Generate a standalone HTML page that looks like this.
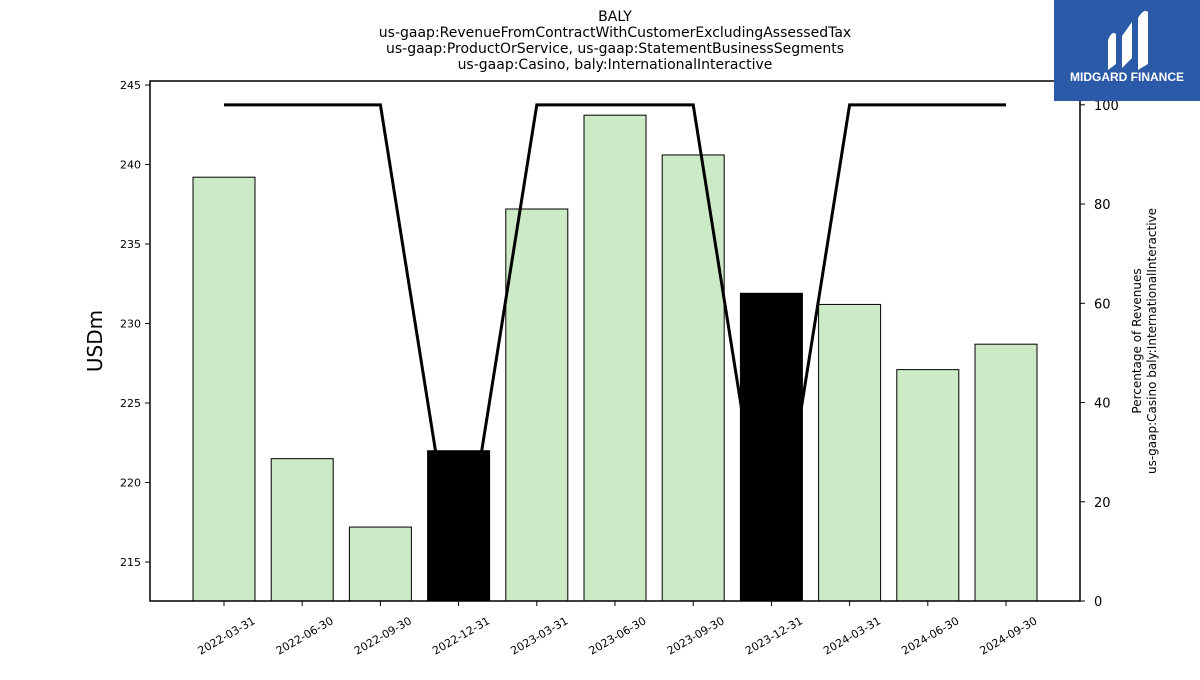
<!DOCTYPE html>
<html><head><meta charset="utf-8"><style>
body{margin:0;background:#fff;font-family:"Liberation Sans",sans-serif}
svg text{font-family:"DejaVu Sans","Liberation Sans",sans-serif}
</style></head><body>
<svg id="c" width="1200" height="675" xmlns="http://www.w3.org/2000/svg">
<g font-size="14" text-anchor="middle" fill="#000">
<text x="615" y="21">BALY</text>
<text x="615" y="37">us-gaap:RevenueFromContractWithCustomerExcludingAssessedTax</text>
<text x="615" y="53">us-gaap:ProductOrService, us-gaap:StatementBusinessSegments</text>
<text x="615" y="69">us-gaap:Casino, baly:InternationalInteractive</text>
</g>
<g id="bars"></g><g id="line"></g><g id="axes"></g>
<g>
<rect x="1054" y="0" width="146" height="101" fill="#2b5aa8"/>
<path d="M1108 70 L1108 40 Q1112 30 1116 34 L1116 64 Z M1122 68 L1122 36 L1132 22 L1132 58 Z M1138 70 L1138 18 Q1144 8 1148 12 L1148 64 Z" fill="#fff"/>
<text x="1127" y="81" font-size="12" font-weight="bold" fill="#fff" text-anchor="middle" style="font-family:'Liberation Sans',sans-serif">MIDGARD FINANCE</text>
</g>
</svg>
<script>
const categories=["2022-03-31","2022-06-30","2022-09-30","2022-12-31","2023-03-31","2023-06-30","2023-09-30","2023-12-31","2024-03-31","2024-06-30","2024-09-30"];
const revenues=[239.2,221.5,217.2,222.0,237.2,243.1,240.6,231.9,231.2,227.1,228.7];
const highlight=[0,0,0,1,0,0,0,1,0,0,0];
const percentages=[100,100,100,1,100,100,100,1,100,100,100];
const leftTicks=[215,220,225,230,235,240,245];
const rightTicks=[0,20,40,60,80,100];
const NS="http://www.w3.org/2000/svg";
const L=150,R=1080,T=81,B=601;
const yL=v=>B-(v-212.55)/(245.25-212.55)*(B-T);
const yR=v=>B-v/104.8*(B-T);
const step=78.2,x0=224;
const xC=i=>x0+i*step;
function mk(tag,a,p){const e=document.createElementNS(NS,tag);for(const k in a)e.setAttribute(k,a[k]);p.appendChild(e);return e;}
const bars=document.getElementById('bars'),line=document.getElementById('line'),axes=document.getElementById('axes');
categories.forEach((c,i)=>{
 const y=yL(revenues[i]);
 const r=mk('rect',{x:xC(i)-31,y:y,width:62,height:B-y,fill:highlight[i]?'#000':'#cdeac6',stroke:'#000','stroke-width':1},bars);
 
 
});
const pl=mk('polyline',{points:percentages.map((v,i)=>xC(i)+','+yR(v)).join(' '),fill:'none',stroke:'#000','stroke-width':3,'stroke-linejoin':'miter'},line);


const fr=mk('rect',{x:L,y:T,width:R-L,height:B-T,fill:'none',stroke:'#000','stroke-width':1.5},axes);


leftTicks.forEach(v=>{const y=yL(v);
 mk('line',{x1:L-5,x2:L,y1:y,y2:y,stroke:'#000'},axes);
 const t=mk('text',{x:L-9,y:y+4,'font-size':11,'text-anchor':'end'},axes);t.textContent=v;
 
 
});
rightTicks.forEach(v=>{const y=yR(v);
 mk('line',{x1:R,x2:R+5,y1:y,y2:y,stroke:'#000'},axes);
 const t=mk('text',{x:R+14,y:y+5,'font-size':13},axes);t.textContent=v;
 
 
});
categories.forEach((c,i)=>{const x=xC(i);
 mk('line',{x1:x,x2:x,y1:B,y2:B+5,stroke:'#000'},axes);
 const t=mk('text',{x:x+32,y:B+22,'font-size':11,'text-anchor':'end',transform:`rotate(-30 ${x+32} ${B+22})`},axes);t.textContent=c;
 
 
});
let t=mk('text',{x:102,y:341,'font-size':20,'text-anchor':'middle',transform:'rotate(-90 102 341)'},axes);t.textContent='USDm';


t=mk('text',{x:1141,y:341,'font-size':12,'text-anchor':'middle',transform:'rotate(-90 1141 341)'},axes);t.textContent='Percentage of Revenues';


t=mk('text',{x:1156,y:341,'font-size':12,'text-anchor':'middle',transform:'rotate(-90 1156 341)'},axes);t.textContent='us-gaap:Casino baly:InternationalInteractive';


</script>
</body></html>
